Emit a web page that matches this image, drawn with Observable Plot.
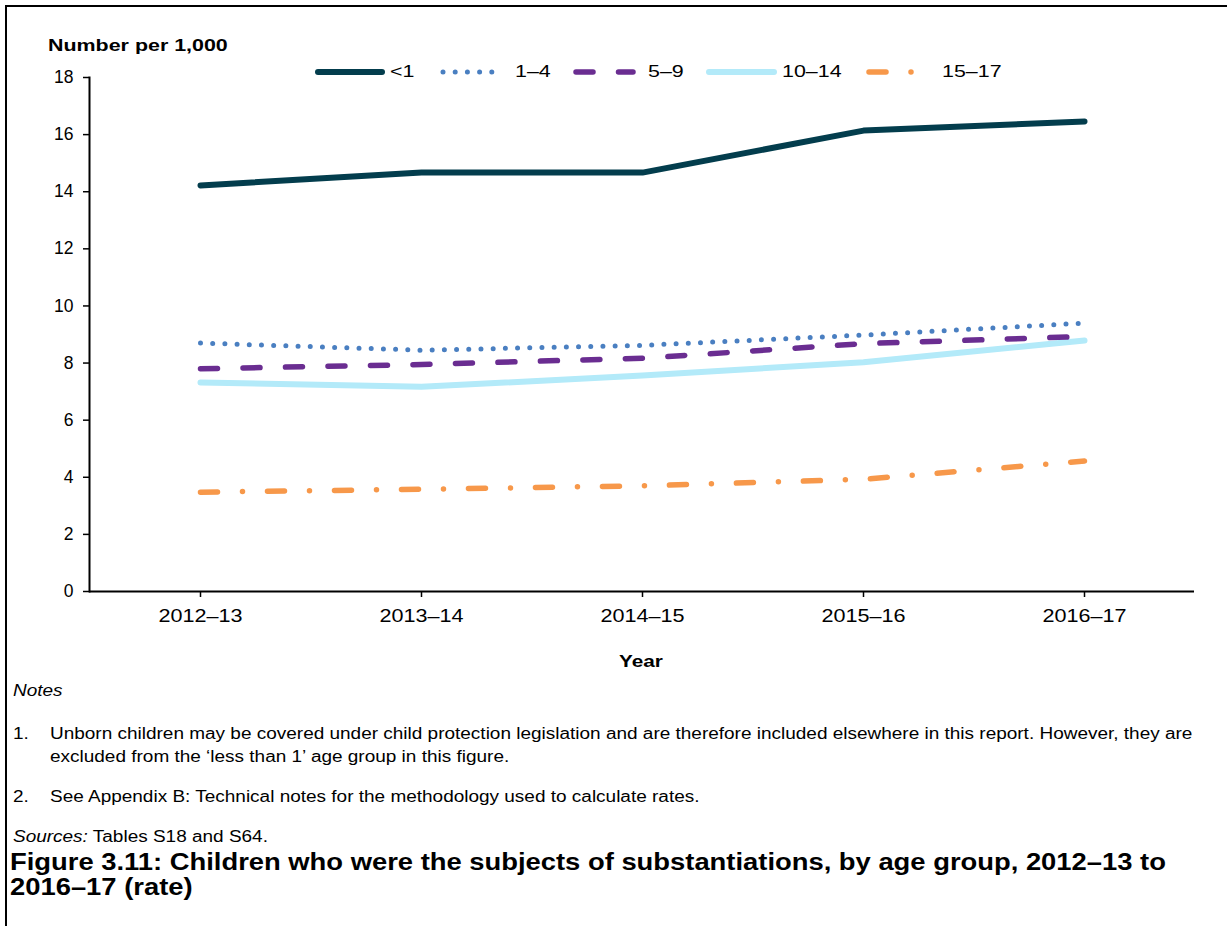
<!DOCTYPE html>
<html>
<head>
<meta charset="utf-8">
<script src="https://cdn.jsdelivr.net/npm/d3@7"></script>
<script src="https://cdn.jsdelivr.net/npm/@observablehq/plot@0.6"></script>
<style>
  html, body { margin: 0; padding: 0; background: #fff; }
  body { width: 1227px; height: 926px; position: relative; overflow: hidden;
         font-family: "Liberation Sans", Arial, sans-serif; color: #000; }
  #frame { position: absolute; left: 5px; top: 5px; right: -10px; bottom: -10px;
           border-left: 2px solid #000; border-top: 2px solid #000; }
  #chart { position: absolute; left: 0; top: 0; }
  .t { position: absolute; white-space: nowrap; transform-origin: 0 50%; }
  .n { font-size: 16px; line-height: 18px; transform: scaleX(1.186); }
  #legend { position: absolute; left: 0; top: 60px; width: 1227px; height: 26px; }
  .lg { position: absolute; font-size: 17px; line-height: 24px; top: 0; transform-origin: 0 50%; transform: scaleX(1.26); }
</style>
</head>
<body>
<div id="frame"></div>
<div id="chart"></div>
<div id="legend"></div>
<div class="t" style="left:48px; top:36px; font-size:17px; font-weight:bold; line-height:20px; transform:scaleX(1.26);">Number per 1,000</div>
<div class="t" style="left:0; width:1282px; text-align:center; top:652px; font-size:17px; font-weight:bold; line-height:20px; transform-origin:641px 50%; transform:scaleX(1.22);">Year</div>
<div class="t n" style="left:13px; top:682px; font-style:italic;">Notes</div>
<div class="t n" style="left:13px; top:725px;">1.</div>
<div class="t n" style="left:50px; top:725px;">Unborn children may be covered under child protection legislation and are therefore included elsewhere in this report. However, they are</div>
<div class="t n" style="left:50px; top:748px;">excluded from the ‘less than 1’ age group in this figure.</div>
<div class="t n" style="left:13px; top:788px;">2.</div>
<div class="t n" style="left:50px; top:788px;">See Appendix B: Technical notes for the methodology used to calculate rates.</div>
<div class="t n" style="left:13px; top:828px;"><i>Sources:</i> Tables S18 and S64.</div>
<div class="t" style="left:10px; top:850px; font-size:23px; font-weight:bold; line-height:25px; transform-origin:0 0; transform:scaleX(1.19);">Figure 3.11: Children who were the subjects of substantiations, by age group, 2012–13 to<br>2016–17 (rate)</div>
<script>
const years = ["2012–13", "2013–14", "2014–15", "2015–16", "2016–17"];
const seriesNames = ["<1", "1–4", "5–9", "10–14", "15–17"];
const under1 = [14.22, 14.67, 14.67, 16.14, 16.46];
const age1to4 = [8.70, 8.45, 8.62, 8.98, 9.40];
const age5to9 = [7.80, 7.95, 8.17, 8.68, 8.93];
const age10to14 = [7.32, 7.17, 7.56, 8.03, 8.79];
const age15to17 = [3.48, 3.58, 3.70, 3.93, 4.57];
const yTicks = [0, 2, 4, 6, 8, 10, 12, 14, 16, 18];

const colors = ["#033d4d", "#4a7fc1", "#6a2d91", "#b3eaf9", "#f7984a"];
const styles = [
  {strokeWidth: 6, dash: null},
  {strokeWidth: 5, dash: "0 12.2"},
  {strokeWidth: 5.5, dash: "17 25.5"},
  {strokeWidth: 6, dash: null},
  {strokeWidth: 5.5, dash: "17 25 0 25"}
];
const valuesBySeries = [under1, age1to4, age5to9, age10to14, age15to17];

const data = [];
seriesNames.forEach((s, i) => years.forEach((y, j) => data.push({series: s, year: y, value: valuesBySeries[i][j]})));

const lineMarks = seriesNames.map((s, i) => Plot.line(data.filter(d => d.series === s), {
  x: "year", y: "value", stroke: colors[i], strokeWidth: styles[i].strokeWidth,
  strokeDasharray: styles[i].dash, strokeLinecap: "round", strokeLinejoin: "round"
}));
const order = [3, 4, 2, 1, 0];

const chart = Plot.plot({
  width: 1227,
  height: 680,
  marginLeft: 89,
  marginRight: 33,
  marginTop: 77,
  marginBottom: 89,
  style: {fontFamily: "'Liberation Sans', Arial, sans-serif", fontSize: "17px", color: "#000", background: "transparent", overflow: "visible"},
  x: {type: "point", domain: years, padding: 0.5, label: null},
  y: {domain: [0, 18], label: null},
  marks: [
    Plot.axisY({ticks: yTicks, tickSize: 6, tickPadding: 10, label: null, fontSize: 17.5, stroke: "#000", strokeWidth: 1.5}),
    Plot.axisX({tickSize: 6, tickPadding: 12, label: null, fontSize: 18, stroke: "#000", strokeWidth: 1.5}),
    Plot.frame({anchor: "left", stroke: "#000", strokeWidth: 2}),
    Plot.ruleY([0], {stroke: "#000", strokeWidth: 2}),
    ...order.map(i => lineMarks[i])
  ]
});
// widen x tick labels to match the stretched reference typography
chart.querySelectorAll('text').forEach(t => {
  if (/^\d{4}–\d{2}$/.test(t.textContent)) {
    t.setAttribute("transform", (t.getAttribute("transform") || "") + " scale(1.2,1)");
  }
});
document.getElementById("chart").appendChild(chart);

// legend
const legendItems = [
  {x0: 315, x1: 385, tx: 390},
  {x0: 440, x1: 505, tx: 515},
  {x0: 573, x1: 636, tx: 648},
  {x0: 706, x1: 777, tx: 782},
  {x0: 866, x1: 936, tx: 942}
];
const legend = document.getElementById("legend");
const ns = "http://www.w3.org/2000/svg";
const lsvg = document.createElementNS(ns, "svg");
lsvg.setAttribute("width", 1227); lsvg.setAttribute("height", 26);
lsvg.style.position = "absolute"; lsvg.style.left = "0"; lsvg.style.top = "0";
legend.appendChild(lsvg);
seriesNames.forEach((s, i) => {
  const it = legendItems[i];
  const ln = document.createElementNS(ns, "line");
  ln.setAttribute("x1", it.x0 + 3); ln.setAttribute("x2", it.x1 - 3);
  ln.setAttribute("y1", 12); ln.setAttribute("y2", 12);
  ln.setAttribute("stroke", colors[i]);
  ln.setAttribute("stroke-width", styles[i].strokeWidth);
  ln.setAttribute("stroke-linecap", "round");
  if (styles[i].dash) ln.setAttribute("stroke-dasharray", styles[i].dash);
  lsvg.appendChild(ln);
  const t = document.createElement("div");
  t.className = "lg";
  t.style.left = it.tx + "px";
  t.textContent = s;
  legend.appendChild(t);
});
</script>
</body>
</html>
